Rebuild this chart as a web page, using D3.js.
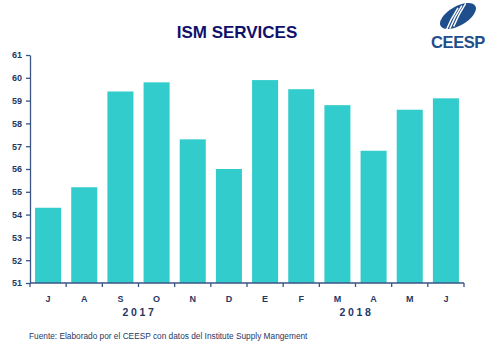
<!DOCTYPE html>
<html>
<head>
<meta charset="utf-8">
<script src="https://cdn.jsdelivr.net/npm/d3@7"></script>
<style>
  body { margin: 0; background: #fff; }
  svg { font-family: Arial, "Liberation Sans", sans-serif; }
</style>
</head>
<body>
<div id="chart"></div>
<script>
// data
const months = ['J', 'A', 'S', 'O', 'N', 'D', 'E', 'F', 'M', 'A', 'M', 'J'];
const values = [54.3, 55.2, 59.4, 59.8, 57.3, 56.0, 59.9, 59.5, 58.8, 56.8, 58.6, 59.1];
const yTicks = [51, 52, 53, 54, 55, 56, 57, 58, 59, 60, 61];
const years = [{ label: '2017', from: 2, to: 3 }, { label: '2018', from: 8, to: 9 }];

const W = 489, H = 341;
const plotLeft = 30, plotRight = 464, plotTop = 55, plotBottom = 283;
const navy = '#1f3864';
const axisColor = '#3a5584';

const svg = d3.select('#chart').append('svg')
  .attr('width', W)
  .attr('height', H);

const keys = months.map((m, i) => i);

const x = d3.scaleBand()
  .domain(keys)
  .range([plotLeft, plotRight])
  .paddingInner(0.28)
  .paddingOuter(0.14);

const y = d3.scaleLinear()
  .domain([51, 61])
  .range([plotBottom, plotTop]);

// bars
svg.selectAll('.bar')
  .data(values)
  .enter()
  .append('rect')
  .attr('class', 'bar')
  .attr('x', (d, i) => x(i))
  .attr('y', d => y(d))
  .attr('width', x.bandwidth())
  .attr('height', d => y(51) - y(d))
  .attr('fill', '#33cccc');

// y axis
const yAxis = svg.append('g')
  .attr('transform', `translate(${plotLeft},0)`)
  .call(d3.axisLeft(y).tickValues(yTicks).tickSize(4).tickPadding(4).tickSizeOuter(0));
yAxis.select('.domain').attr('stroke', axisColor).attr('stroke-width', 1.3);
yAxis.selectAll('line').attr('stroke', axisColor).attr('stroke-width', 1.3);
yAxis.selectAll('text')
  .attr('fill', navy)
  .style('font-size', '9px')
  .style('font-weight', 'bold');

// x axis line + boundary ticks
const gap = (x.step() - x.bandwidth()) / 2;
const bounds = keys.map(i => x(i) - gap).concat([plotRight]);
svg.append('line')
  .attr('x1', plotLeft).attr('x2', plotRight)
  .attr('y1', plotBottom).attr('y2', plotBottom)
  .attr('stroke', axisColor).attr('stroke-width', 1.3);
svg.selectAll('.xtick')
  .data(bounds)
  .enter()
  .append('line')
  .attr('x1', d => d).attr('x2', d => d)
  .attr('y1', plotBottom).attr('y2', plotBottom + 4)
  .attr('stroke', axisColor).attr('stroke-width', 1.3);

svg.selectAll('.mlabel')
  .data(months)
  .enter()
  .append('text')
  .attr('x', (d, i) => x(i) + x.bandwidth() / 2)
  .attr('y', 302)
  .attr('text-anchor', 'middle')
  .attr('fill', navy)
  .style('font-size', '9px')
  .style('font-weight', 'bold')
  .text(d => d);

svg.selectAll('.ylabel')
  .data(years)
  .enter()
  .append('text')
  .attr('x', d => (x(d.from) + x(d.to) + x.bandwidth()) / 2 + 1)
  .attr('y', 316)
  .attr('text-anchor', 'middle')
  .attr('fill', navy)
  .style('font-size', '10.5px')
  .style('font-weight', 'bold')
  .style('letter-spacing', '2.6px')
  .text(d => d.label);

// title
svg.append('text')
  .attr('x', 237)
  .attr('y', 38)
  .attr('text-anchor', 'middle')
  .attr('fill', '#10106a')
  .style('font-size', '17px')
  .style('font-weight', 'bold')
  .text('ISM SERVICES');

// footnote
svg.append('text')
  .attr('x', 29)
  .attr('y', 339)
  .attr('fill', navy)
  .style('font-size', '8.3px')
  .text('Fuente: Elaborado por el CEESP con datos del Institute Supply Mangement');

// logo
const logo = svg.append('g').attr('transform', 'translate(458,16) rotate(-30)');
logo.append('ellipse')
  .attr('rx', 20).attr('ry', 9.5)
  .attr('fill', '#1f4e8c');
[-6, -1.5, 3].forEach(o => {
  logo.append('path')
    .attr('d', `M${-12 + o},${7} Q${-2 + o},${-1} ${10 + o},${-7}`)
    .attr('stroke', '#fff')
    .attr('stroke-width', 1.5)
    .attr('fill', 'none');
});
svg.append('text')
  .attr('x', 458)
  .attr('y', 48)
  .attr('text-anchor', 'middle')
  .attr('fill', '#1f4e8c')
  .style('font-size', '16.5px')
  .style('font-weight', 'bold')
  .style('letter-spacing', '-0.4px')
  .text('CEESP');
</script>
</body>
</html>
